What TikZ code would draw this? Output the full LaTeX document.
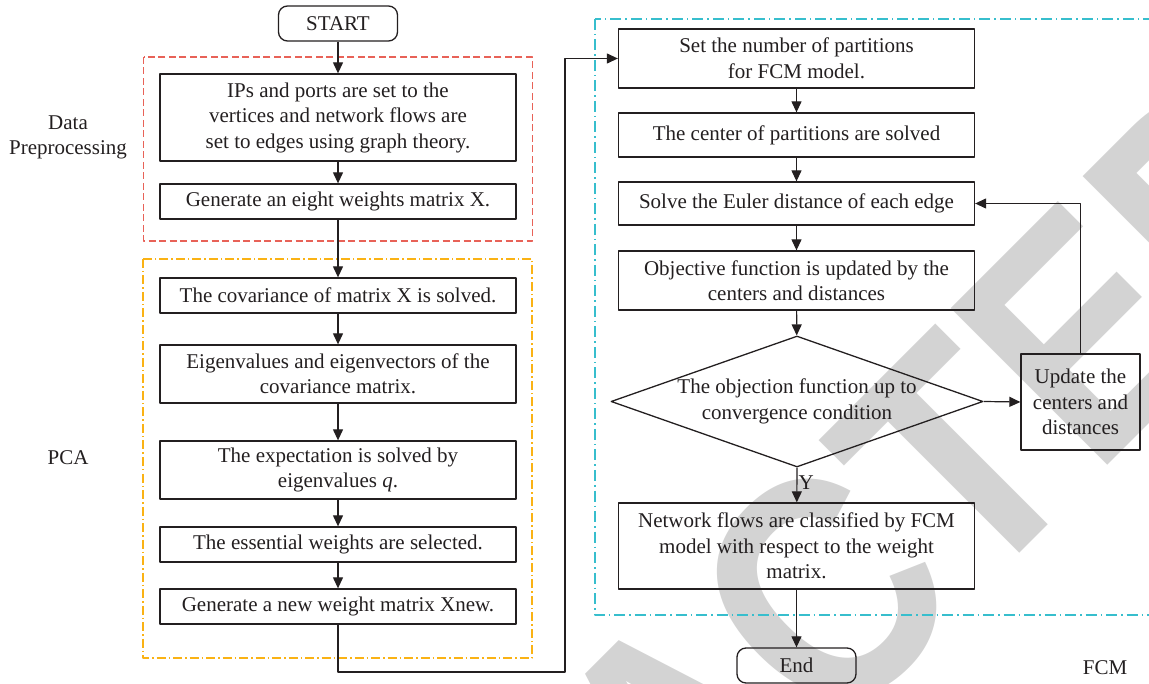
\documentclass[tikz,border=0pt]{standalone}
\usepackage{fontspec}
\setmainfont{Liberation Serif}
\newfontfamily\markfont{Liberation Sans}
\usetikzlibrary{arrows.meta,shapes.geometric}

\definecolor{inkline}{RGB}{35,31,32}
\definecolor{wmgray}{RGB}{211,211,211}
\definecolor{dashred}{RGB}{232,98,88}
\definecolor{dashorange}{RGB}{250,178,20}
\definecolor{dashcyan}{RGB}{55,190,205}

\tikzset{
  box/.style={draw=inkline, line width=1.3pt, minimum width=356pt, inner sep=0pt,
    align=center, text=inkline, font=\fontsize{21}{25.5}\selectfont},
  terminal/.style={box, rounded corners=9pt, minimum width=119pt, minimum height=35pt},
  decide/.style={box, diamond, aspect=2.84, minimum width=372pt, minimum height=131pt},
  lbl/.style={align=center, text=inkline, inner sep=0pt, font=\fontsize{21}{25.5}\selectfont},
  flow/.style={draw=inkline, line width=1.2pt, -{Triangle[length=11pt,width=10pt]}},
  redframe/.style={draw=dashred, line width=1.1pt, dash pattern=on 7pt off 3.5pt},
  orangeframe/.style={draw=dashorange, line width=1.1pt, dash pattern=on 9pt off 3pt on 1.5pt off 3pt},
  cyanframe/.style={draw=dashcyan, line width=1.1pt, dash pattern=on 11pt off 4pt on 1.5pt off 4pt},
  wmark/.style={text=wmgray, inner sep=0pt, font=\markfont\bfseries\fontsize{322}{330}\selectfont}
}

\begin{document}
\begin{tikzpicture}[x=1pt, y=-1pt, line join=round]

  % 钉死画布 1149 x 684
  \path[use as bounding box] (0,0) rectangle (1149,684);
  \clip (0,0) rectangle (1149,684);

  %% ════ 水印（最底层）════
  \node[wmark, anchor=base west, rotate=45, xscale=0.87] (stamp) at (148,1425) {RETRACTED};

  %% ════ 分组虚线框 ════
  \draw[redframe] (143.7,57) rectangle (532.3,241);
  \draw[orangeframe] (143,259) rectangle (532,658);
  \draw[cyanframe] (595,19) rectangle (1160,615);

  \node[lbl] (prelab) at (68,137.5) {Data\\Preprocessing};
  \node[lbl] (pcalab) at (68,458) {PCA};
  \node[lbl] (fcmlab) at (1105,668) {FCM};

  %% ════ 左列 ════
  \node[terminal] (start) at (338,23.5) {START};
  \node[box, minimum height=87pt] (ips) at (338,117.5) {IPs and ports are set to the\\vertices and network flows are\\set to edges using graph theory.};
  \node[box, minimum height=35pt] (gen8) at (338,201.5) {Generate an eight weights matrix X.};
  \node[box, minimum height=35pt] (cov) at (338,295.5) {The covariance of matrix X is solved.};
  \node[box, minimum height=58pt] (eig) at (338,374) {Eigenvalues and eigenvectors of the\\covariance matrix.};
  \node[box, minimum height=58pt] (expect) at (338,470) {The expectation is solved by\\eigenvalues \textit{q}.};
  \node[box, minimum height=35pt] (essent) at (338,544.5) {The essential weights are selected.};
  \node[box, minimum height=35pt] (xnew) at (338,606.5) {Generate a new weight matrix Xnew.};

  %% ════ 右列 ════
  \node[box, minimum height=59pt] (setnum) at (796.5,58.5) {Set the number of partitions\\for FCM model.};
  \node[box, minimum height=44pt] (centers) at (796.5,135) {The center of partitions are solved};
  \node[box, minimum height=43pt] (euler) at (796.5,203.5) {Solve the Euler distance of each edge};
  \node[box, minimum height=59pt] (objfun) at (796.5,280.5) {Objective function is updated by the\\centers and distances};
  \node[decide] (conv) at (797,401.5) {The objection function up to\\convergence condition};
  \node[box, minimum width=119pt, minimum height=96pt] (update) at (1080.5,402) {Update the\\centers and\\distances};
  \node[box, minimum height=86pt] (network) at (796.5,546) {Network flows are classified by FCM\\model with respect to the weight\\matrix.};
  \node[terminal] (finish) at (796.5,665.5) {End};

  \coordinate (turn) at (565,672);

  %% ════ 连线 ════
  \draw[flow] (start) -- (ips);
  \draw[flow] (ips) -- (gen8);
  \draw[flow] (gen8) -- (cov);
  \draw[flow] (cov) -- (eig);
  \draw[flow] (eig) -- (expect);
  \draw[flow] (expect) -- (essent);
  \draw[flow] (essent) -- (xnew);
  \draw[flow] (xnew.south) |- (turn) |- (setnum.west);

  \draw[flow] (setnum) -- (centers);
  \draw[flow] (centers) -- (euler);
  \draw[flow] (euler) -- (objfun);
  \draw[flow] (objfun) -- (conv);
  \draw[flow] (conv.south) -- (network) node[lbl, pos=0.42, anchor=west, xshift=1pt] (ylab) {Y};
  \draw[flow] (network) -- (finish);
  \draw[flow] (conv.east) -- (update.west);
  \draw[flow] (update.north) |- (euler.east);
\end{tikzpicture}
\end{document}
